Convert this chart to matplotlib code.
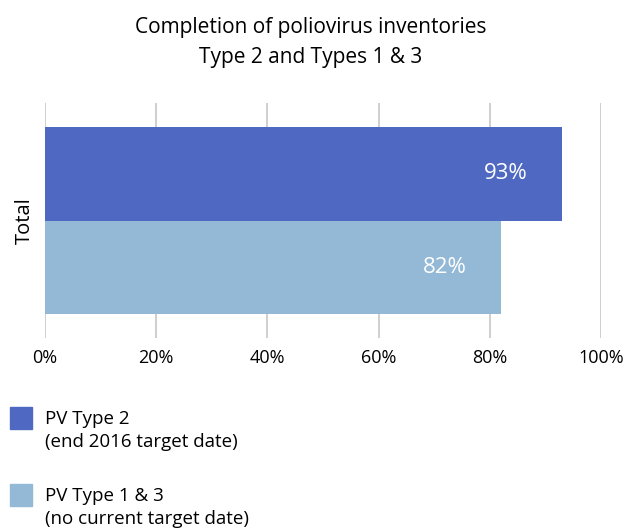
import matplotlib.pyplot as plt
import matplotlib.transforms as mtransforms
from matplotlib.patches import Rectangle

plt.rcParams['font.family'] = ['Open Sans', 'DejaVu Sans']

# completion share per inventory type (percent)
series = ['PV Type 2', 'PV Type 1 & 3']
notes = ['(end 2016 target date)', '(no current target date)']
values = [93, 82]
colors = ['#4f68c2', '#93b9d6']
category = 'Total'
xticks = [0, 20, 40, 60, 80, 100]

fig = plt.figure(figsize=(6.41, 5.32), dpi=100)
ax = fig.add_axes([45 / 641, 1 - 338 / 532, 556 / 641, 235 / 532])

ypos = [0.5, -0.5]
for y, v, c in zip(ypos, values, colors):
    ax.barh(y, v, height=1.0, color=c, zorder=2)
    ax.annotate('%d%%' % v, xy=(v, y), xytext=(-34, 0), textcoords='offset pixels',
                ha='right', va='center', color='white', fontsize=16)

ax.set_xlim(0, 100)
ax.set_ylim(-1.26, 1.26)
ax.set_xticks(xticks)
ax.set_xticklabels(['%d%%' % t for t in xticks], fontsize=13)
# nudge the tick labels a little to the right of their gridlines
shift = mtransforms.ScaledTranslation(5 / 100, 0, fig.dpi_scale_trans)
for lbl in ax.get_xticklabels():
    lbl.set_transform(lbl.get_transform() + shift)
ax.set_yticks([])
ax.grid(axis='x', color='#cccccc', linewidth=1.3, zorder=0)
ax.tick_params(axis='x', length=0, pad=8)
for s in ax.spines.values():
    s.set_visible(False)
ax.set_ylabel(category, fontsize=14.5, labelpad=7)

fig.text(311 / 641, 1 - 27 / 532, 'Completion of poliovirus inventories',
         ha='center', va='center', fontsize=15)
fig.text(311 / 641, 1 - 58 / 532, 'Type 2 and Types 1 & 3',
         ha='center', va='center', fontsize=15)

# legend drawn by hand: colour square plus two text lines
for i, (name, note, c) in enumerate(zip(series, notes, colors)):
    top = 407 + i * 77
    fig.patches.append(Rectangle((10 / 641, 1 - (top + 22) / 532), 22 / 641, 22 / 532,
                                 transform=fig.transFigure, color=c))
    fig.text(45 / 641, 1 - (top + 12) / 532, name, ha='left', va='center', fontsize=13.5)
    fig.text(45 / 641, 1 - (top + 35) / 532, note, ha='left', va='center', fontsize=13.5)

fig.savefig('out.png', dpi=100)
